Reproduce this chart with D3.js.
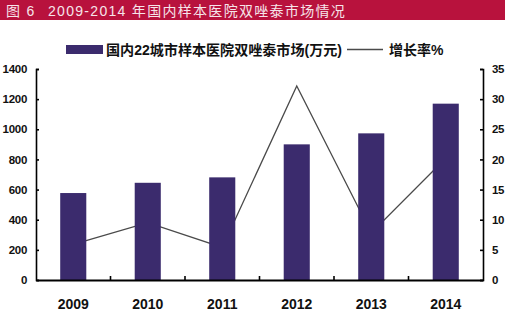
<!DOCTYPE html>
<html><head><meta charset="utf-8">
<script src="https://cdn.jsdelivr.net/npm/d3@7"></script>
<style>
html,body{margin:0;padding:0;background:#fff;}
svg{display:block;}
</style></head>
<body>
<svg id="chart" width="512" height="324"></svg>
<script>
const years = ["2009","2010","2011","2012","2013","2014"];
const market = [577, 645, 681, 900, 973, 1170];
const growth = [5.9, 9.5, 5.4, 32.2, 7.8, 20.2];
const leftTicks = [0,200,400,600,800,1000,1200,1400];
const rightTicks = [0,5,10,15,20,25,30,35];
const titleNum = "图 6";
const titleText = "2009-2014 年国内样本医院双唑泰市场情况";
const legendBar = "国内22城市样本医院双唑泰市场(万元)";
const legendLine = "增长率%";

const svg = d3.select("#chart");
const L = 36, R = 483, T = 69, B = 280;
const barColor = "#3b2b6d";
const fontLat = "'Liberation Sans', Arial, sans-serif";
const fontCJK = "'Liberation Sans','Noto Sans CJK SC', sans-serif";

// title band
svg.append("rect").attr("x",0).attr("y",0).attr("width",505).attr("height",20).attr("fill","#b8123d");
svg.append("text").attr("x",6).attr("y",15.5).attr("fill","#f6e4ea")
  .style("font-family",fontCJK).style("font-size","14px").style("letter-spacing","1.3px")
  .text(titleNum);
svg.append("text").attr("x",48).attr("y",15.5).attr("fill","#f6e4ea")
  .style("font-family",fontCJK).style("font-size","14px").style("letter-spacing","1.3px")
  .text(titleText);

const x = d3.scaleBand().domain(years).range([L,R]).paddingInner(0.65).paddingOuter(0.325);
const yL = d3.scaleLinear().domain([0,1400]).range([B,T]);
const yR = d3.scaleLinear().domain([0,35]).range([B,T]);

// line (behind bars)
const line = d3.line().x((d,i)=>x(years[i])+x.bandwidth()/2).y(d=>yR(d));
svg.append("path").datum(growth).attr("d",line).attr("fill","none")
  .attr("stroke","#4a4a4a").attr("stroke-width",1.3);

// bars
svg.selectAll("rect.bar").data(market).enter().append("rect").attr("class","bar")
  .attr("x",(d,i)=>x(years[i])).attr("y",d=>yL(d))
  .attr("width",x.bandwidth()).attr("height",d=>B-yL(d)).attr("fill",barColor);

// axes
const axL = d3.axisLeft(yL).tickValues(leftTicks).tickFormat(d3.format("d")).tickSize(-3).tickPadding(9);
const gL = svg.append("g").attr("transform",`translate(${L},0)`).call(axL);
const axR = d3.axisRight(yR).tickValues(rightTicks).tickFormat(d3.format("d")).tickSize(-3).tickPadding(9);
const gR = svg.append("g").attr("transform",`translate(${R},0)`).call(axR);
[gL,gR].forEach(g=>{
  g.select(".domain").attr("stroke","#000").attr("stroke-width",1.6);
  g.selectAll(".tick line").attr("stroke","#000").attr("stroke-width",1.6);
  g.selectAll(".tick text").attr("fill","#111").style("font-family",fontLat)
    .style("font-size","11.5px").style("font-weight","bold").style("letter-spacing","-0.3px");
});

const axB = d3.axisBottom(x).tickSize(0).tickPadding(19);
const gB = svg.append("g").attr("transform",`translate(0,${B})`).call(axB);
gB.select(".domain").attr("stroke","#000").attr("stroke-width",2.2);
gB.selectAll(".tick text").attr("fill","#111").style("font-family",fontLat)
  .style("font-size","14px").style("font-weight","bold");
// category separator ticks (inside)
const step = x.step();
svg.selectAll("line.sep").data(years.slice(0,-1)).enter().append("line").attr("class","sep")
  .attr("x1",d=>x(d)+x.bandwidth()+(step-x.bandwidth())/2)
  .attr("x2",d=>x(d)+x.bandwidth()+(step-x.bandwidth())/2)
  .attr("y1",B).attr("y2",B-4).attr("stroke","#000").attr("stroke-width",1.6);

// legend
svg.append("rect").attr("x",66).attr("y",45).attr("width",37).attr("height",9).attr("fill",barColor);
svg.append("text").attr("x",106).attr("y",55).attr("fill","#111")
  .style("font-family",fontCJK).style("font-size","14px").style("font-weight","bold")
  .attr("textLength",236).attr("lengthAdjust","spacingAndGlyphs")
  .text(legendBar);
svg.append("line").attr("x1",347).attr("x2",383).attr("y1",49.5).attr("y2",49.5)
  .attr("stroke","#4a4a4a").attr("stroke-width",1.3);
svg.append("text").attr("x",389).attr("y",55).attr("fill","#111")
  .style("font-family",fontCJK).style("font-size","14px").style("font-weight","bold")
  .text(legendLine);
</script>
</body></html>
